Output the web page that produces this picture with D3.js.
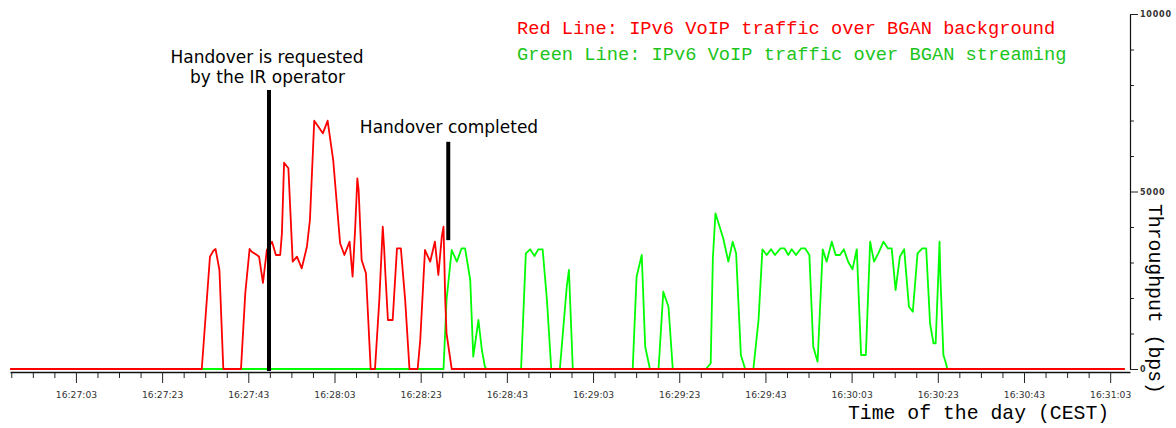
<!DOCTYPE html>
<html>
<head>
<meta charset="utf-8">
<script src="https://cdn.jsdelivr.net/npm/d3@7"></script>
<style>
  html, body { margin: 0; padding: 0; background: #fff; }
  svg { display: block; }
</style>
</head>
<body>
<svg id="chart" width="1176" height="428"></svg>
<script>
// ---- Data (time in seconds after 16:27:03, throughput in bps) ----
const redT = [-15.3, 29.2, 31.1, 31.9, 32.4, 33.3, 34.2, 38.3, 39.3, 40.3, 40.8, 42.0, 42.5, 43.4, 44.3,
  45.5, 46.4, 47.4, 47.8, 48.3, 49.3, 50.3, 51.3, 52.4, 53.6, 54.3, 55.3, 57.3, 58.4, 59.7,
  61.3, 62.3, 63.5, 64.2, 64.8, 65.3, 65.6, 66.3, 67.3, 68.4, 69.4, 70.4, 71.2, 71.5, 71.8,
  72.4, 73.5, 74.5, 75.4, 76.4, 77.4, 79.3, 79.9, 81.0, 82.2, 83.3, 84.1, 84.9, 85.3, 85.7,
  86.0, 87.2, 243.4];
const redV = [0, 0, 3163, 3332, 3380, 2789, 0, 0, 2141, 3380, 3304, 3211, 3163, 2423, 3352,
  3586, 3211, 3211, 3823, 5811, 5654, 3023, 3163, 2837, 3445, 4197, 6994, 6639, 6994, 5887,
  3541, 3211, 3586, 2600, 3963, 5372, 5042, 3070, 2696, 0, 0, 1944, 4008, 3445, 2696,
  1380, 1380, 3400, 3400, 1944, 0, 0, 817, 3352, 3023, 3586, 2648, 3727, 4008, 1944,
  1006, 0, 0];

const greenT = [-15.3, 85.3, 86.0, 87.2, 88.4, 89.5, 90.3, 91.5, 92.2, 93.4, 94.2, 94.9, 95.3,
  103.3, 104.4, 105.4, 106.4, 107.3, 108.3, 109.3, 110.3, 112.3, 113.9, 114.4, 115.3,
  129.2, 130.1, 131.3, 132.1, 133.2, 135.2, 136.3, 137.5, 138.5,
  146.2, 147.3, 147.8, 148.4, 150.2, 151.4, 152.4, 153.2, 154.3, 155.3,
  157.2, 158.4, 159.3, 160.3, 161.3, 162.2, 163.5, 164.4, 165.3, 166.1, 167.1, 168.3, 169.2, 170.2,
  171.1, 172.1, 173.3, 174.2, 175.4, 176.3, 177.3, 178.2, 179.2, 180.2, 181.2, 182.2, 183.3,
  184.3, 185.2, 186.2, 187.4, 188.4, 189.3, 190.2, 191.2, 192.2, 193.3, 194.2, 195.3, 196.4,
  197.3, 198.2, 199.0, 199.5, 200.1, 200.4, 200.6, 201.3, 201.9, 202.2, 243.4];
const greenV = [0, 0, 1944, 3352, 3023, 3400, 3400, 2507, 346, 1380, 535, 65, 0,
  0, 3259, 3372, 3183, 3372, 3372, 1944, 0, 0, 2318, 2789, 0,
  0, 2600, 3211, 628, 0, 0, 2177, 1755, 0,
  0, 161, 3118, 4386, 3682, 3023, 3586, 3259, 394, 0,
  0, 1380, 3372, 3211, 3372, 3211, 3400, 3400, 3211, 3372, 3211, 3400, 3400, 3211,
  628, 206, 3372, 3023, 3586, 3211, 3211, 3372, 3023, 2808, 3372, 394, 394,
  3586, 3023, 3259, 3586, 3400, 3400, 2225, 3163, 3372, 1755, 1614, 3259, 3400,
  3400, 1287, 724, 724, 2600, 3586, 2600, 394, 161, 0, 0];

const xMajorTicks = [0, 20, 40, 60, 80, 100, 120, 140, 160, 180, 200, 220, 240];
const xTickLabels = ["16:27:03", "16:27:23", "16:27:43", "16:28:03", "16:28:23", "16:28:43",
  "16:29:03", "16:29:23", "16:29:43", "16:30:03", "16:30:23", "16:30:43", "16:31:03"];
const yMajorTicks = [0, 5000, 10000];
const yTickLabels = ["0", "5000", "10000"];

const handoverT = [44.8, 86.4];
const handoverFrom = [0, 3630];
const handoverTo = [7860, 6400];

const legendTexts = ["Red Line: IPv6 VoIP traffic over BGAN background",
                     "Green Line: IPv6 VoIP traffic over BGAN streaming"];
const annotationTexts = [["Handover is requested", "by the IR operator"], ["Handover completed"]];
const xTitle = "Time of the day (CEST)";
const yTitle = "Throughput (bps)";

// ---- Drawing ----
const svg = d3.select("#chart");
svg.append("rect").attr("width", 1176).attr("height", 428).attr("fill", "#fff");

const x = d3.scaleLinear().domain([-15.3, 244.6]).range([10, 1130]);
const y = d3.scaleLinear().domain([0, 10000]).range([369, 14]);

const mono = "'Liberation Mono', 'Courier New', monospace";
const sans = "'DejaVu Sans', Verdana, sans-serif";

// X axis minor ticks
const xMinor = d3.range(-15, 241, 5).filter(t => t % 20 !== 0);
const gxMinor = svg.append("g").attr("transform", "translate(0,372)")
  .call(d3.axisBottom(x).tickValues(xMinor).tickSize(6).tickSizeOuter(0).tickFormat(""));
gxMinor.select(".domain").remove();
gxMinor.selectAll("line").attr("stroke", "#222").attr("stroke-width", 1);

const gx = svg.append("g").attr("transform", "translate(0,372)")
  .call(d3.axisBottom(x).tickValues(xMajorTicks).tickSize(11).tickSizeOuter(0).tickPadding(8)
    .tickFormat((d, i) => xTickLabels[i]));
gx.select(".domain").attr("stroke", "#111").attr("stroke-width", 1.6);
gx.selectAll("line").attr("stroke", "#222").attr("stroke-width", 1);
gx.selectAll("text").attr("font-family", sans).attr("font-size", 9.2).attr("fill", "#333");

// Y axis (right)
const yMinor = d3.range(1000, 10000, 1000).filter(v => v !== 5000);
const gyMinor = svg.append("g").attr("transform", "translate(1130,0)")
  .call(d3.axisRight(y).tickValues(yMinor).tickSize(4).tickSizeOuter(0).tickFormat(""));
gyMinor.select(".domain").remove();
gyMinor.selectAll("line").attr("stroke", "#222");

const gy = svg.append("g").attr("transform", "translate(1130,0)")
  .call(d3.axisRight(y).tickValues(yMajorTicks).tickSize(8).tickSizeOuter(0).tickPadding(2)
    .tickFormat((d, i) => yTickLabels[i]));
gy.select(".domain").attr("stroke", "#111").attr("stroke-width", 1.2);
gy.selectAll("line").attr("stroke", "#222");
gy.selectAll("text").attr("font-family", sans).attr("font-size", 8).attr("font-weight", "bold")
  .attr("letter-spacing", 0.8).attr("fill", "#333");

// Lines
const line = d3.line().x(d => x(d[0])).y(d => y(d[1]));
const greenData = greenT.map((t, i) => [t, greenV[i]]);
const redData = redT.map((t, i) => [t, redV[i]]);
svg.append("path").datum(greenData).attr("d", line)
  .attr("fill", "none").attr("stroke", "#00ff00").attr("stroke-width", 1.8).attr("stroke-linejoin", "round");
svg.append("path").datum(redData).attr("d", line)
  .attr("fill", "none").attr("stroke", "#ff0000").attr("stroke-width", 1.8).attr("stroke-linejoin", "round");

// Handover markers
handoverT.forEach((t, i) => {
  svg.append("line")
    .attr("x1", x(t)).attr("x2", x(t))
    .attr("y1", y(handoverFrom[i]) + (i === 0 ? 2 : 0)).attr("y2", y(handoverTo[i]))
    .attr("stroke", "#000").attr("stroke-width", 4);
});

// Annotations
svg.append("text").attr("x", 267).attr("y", 62.5).attr("text-anchor", "middle")
  .attr("font-family", sans).attr("font-size", 17).attr("fill", "#000").text(annotationTexts[0][0]);
svg.append("text").attr("x", 267.5).attr("y", 82.5).attr("text-anchor", "middle")
  .attr("font-family", sans).attr("font-size", 17).attr("fill", "#000").text(annotationTexts[0][1]);
svg.append("text").attr("x", 449).attr("y", 132.5).attr("text-anchor", "middle")
  .attr("font-family", sans).attr("font-size", 17).attr("fill", "#000").text(annotationTexts[1][0]);

// Legend texts
svg.append("text").attr("x", 517).attr("y", 33.5)
  .attr("font-family", mono).attr("font-size", 18.7).attr("fill", "#ff0000").text(legendTexts[0]);
svg.append("text").attr("x", 517).attr("y", 59.5)
  .attr("font-family", mono).attr("font-size", 18.7).attr("fill", "#1cc41c").text(legendTexts[1]);

// Axis titles
svg.append("text").attr("x", 848).attr("y", 419)
  .attr("font-family", mono).attr("font-size", 19.8).attr("fill", "#000").text(xTitle);
svg.append("text").attr("transform", "translate(1149,204) rotate(90)")
  .attr("font-family", mono).attr("font-size", 19.8).attr("fill", "#000").text(yTitle);
</script>
</body>
</html>
